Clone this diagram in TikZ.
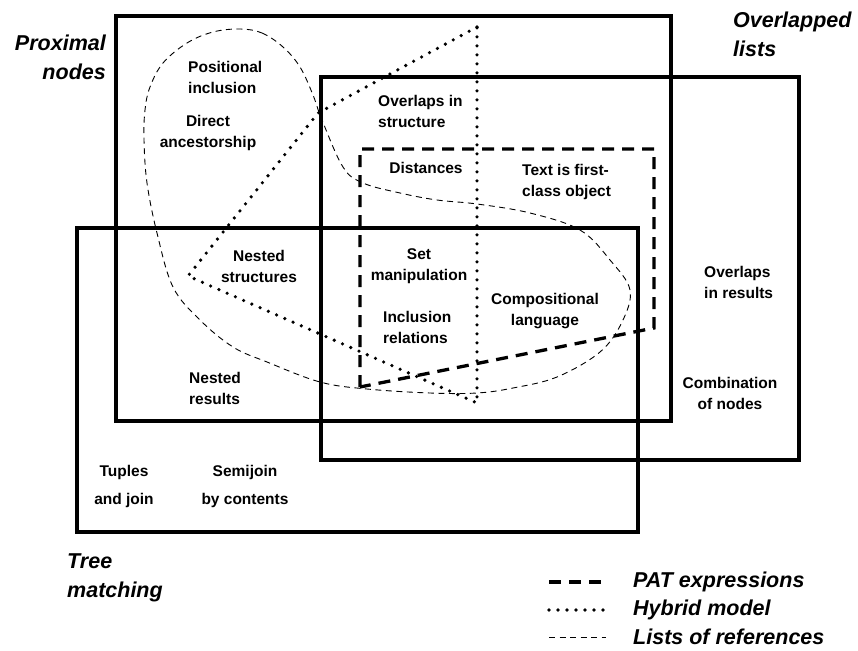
\documentclass[tikz,border=0pt]{standalone}
\usepackage{fontspec}
\setmainfont{Liberation Sans}
\tikzset{venn/.style={draw, line width=3.3pt},
 patline/.style={draw, line width=3.3pt, dash pattern=on 12pt off 8pt},
 hybline/.style={draw, line width=3.6pt, dash pattern=on 0pt off 9pt, line cap=round},
 refline/.style={draw, line width=0.9pt, dash pattern=on 6pt off 4.5pt},
 item/.style={font=\fontsize{15.5}{21}\selectfont\bfseries, align=center, inner sep=0pt},
 title/.style={font=\fontsize{21.5}{29}\selectfont\bfseries\itshape, inner sep=0pt}}

\begin{document}
\begin{tikzpicture}[x=1pt,y=-1pt]
\useasboundingbox (0,0) rectangle (858,650);
% the three models
\draw[venn] (116,16) rectangle (671,421);
\draw[venn] (321,77) rectangle (799,460);
\draw[venn] (77,228) rectangle (638,532);
% PAT expressions
\draw[patline] (360,387) -- (360,149) -- (654,149) -- (654,328) -- cycle;
% hybrid model
\draw[hybline] (477,27) -- (318,113) -- (188,276) -- (477,403) -- cycle;
% lists of references
\draw[refline] plot[smooth cycle, tension=0.6] coordinates {(240,29) (262,33) (283,47) (300,67) (313,95) (322,120) (343,167) (363,183) (400,193) (437,200) (477,204) (530,213) (580,230) (610,260) (630,290) (622,322) (600,352) (557,377) (513,388) (477,393) (430,393) (367,389) (320,382) (267,362) (233,347) (200,320) (173,287) (157,233) (147,183) (144,140) (145,110) (150,87) (163,63) (187,43) (213,32)};
% model names
\node[title, anchor=east, align=right] (prox) at (106,57) {Proximal\\nodes};
\node[title, anchor=west, align=left] (over) at (733,34) {Overlapped\\lists};
\node[title, anchor=west, align=left] (tree) at (67,578) {Tree\\matching};
% features
\node[item, anchor=west, align=left] (posi) at (188,77.5) {Positional\\inclusion};
\node[item] (dire) at (208,133) {Direct\\ancestorship};
\node[item] (nest) at (259,266) {Nested\\structures};
\node[item, anchor=west, align=left] (nres) at (189,388) {Nested\\results};
\node[item, anchor=west, align=left] (ovst) at (378,111) {Overlaps in\\structure};
\node[item] (dist) at (426,168) {Distances};
\node[item, anchor=west, align=left] (text) at (522,182) {Text is first-\\class object};
\node[item] (setm) at (419,266) {Set\\manipulation};
\node[item, anchor=west, align=left] (incl) at (383,327) {Inclusion\\relations};
\node[item] (comp) at (545,311) {Compositional\\language};
\node[item, anchor=west, align=left] (ovre) at (704,282) {Overlaps\\in results};
\node[item] (comb) at (730,393) {Combination\\of nodes};
\node[item, font=\fontsize{15.5}{28}\selectfont\bfseries] (tupl) at (124,486) {Tuples\\and join};
\node[item, font=\fontsize{15.5}{28}\selectfont\bfseries] (semi) at (245,486) {Semijoin\\by contents};
% legend
\coordinate (pa) at (549,582); \coordinate (pb) at (606,582);
\coordinate (ha) at (549,610); \coordinate (hb) at (604,610);
\coordinate (ra) at (549,637); \coordinate (rb) at (606,637);
\draw[patline] (pa) -- (pb);
\draw[hybline] (ha) -- (hb);
\draw[refline] (ra) -- (rb);
\node[title, anchor=west] (lpat) at (633,582) {PAT expressions};
\node[title, anchor=west] (lhyb) at (633,610) {Hybrid model};
\node[title, anchor=west] (lref) at (633,637) {Lists of references};
\end{tikzpicture}
\end{document}
